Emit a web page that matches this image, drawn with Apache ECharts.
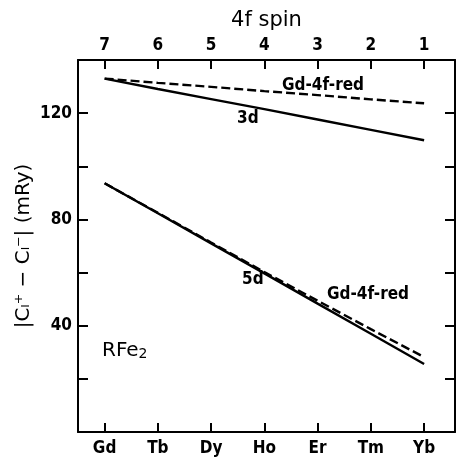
<!DOCTYPE html>
<html>
<head>
<meta charset="utf-8">
<script src="https://cdn.jsdelivr.net/npm/echarts@6/dist/echarts.min.js"></script>
<style>
  body { margin: 0; padding: 0; background: #fff; }
  #chart { width: 463px; height: 459px; }
</style>
</head>
<body>
<div id="chart"></div>
<script>
// rare earths along the bottom, 4f spin along the top
const elements = ['Gd', 'Tb', 'Dy', 'Ho', 'Er', 'Tm', 'Yb'];
const spins = ['7', '6', '5', '4', '3', '2', '1'];
const yLabels = [40, 80, 120];

// |C+ - C-| in mRy
const d3 = [133, 129.1, 125.3, 121.5, 117.6, 113.7, 109.8];
const d3Red = [133, 131.4, 129.9, 128.3, 126.8, 125.2, 123.7];
const d5 = [93.6, 82.3, 71.0, 59.7, 48.3, 37.0, 25.6];
const d5Red = [93.6, 82.5, 71.3, 60.2, 49.4, 38.7, 28.2];

const idx = elements.map((_, i) => i);
const pts = arr => arr.map((v, i) => [i, v]);
const font = 'DejaVu Sans Condensed';

const ec = echarts.init(document.getElementById('chart'));

const xBase = {
    type: 'value',
    min: -0.5,
    max: 6.58,
    splitLine: { show: false },
    axisLine: { onZero: false, lineStyle: { color: '#000', width: 2 } },
    axisTick: { inside: true, length: 9, customValues: idx, lineStyle: { color: '#000', width: 2 } },
};
const yBase = {
    type: 'value',
    min: 0,
    max: 140,
    interval: 20,
    splitLine: { show: false },
    axisLine: { show: true, onZero: false, lineStyle: { color: '#000', width: 2 } },
    axisTick: { inside: true, length: 10, lineStyle: { color: '#000', width: 2 } },
};

const line = (data, dashed) => ({
    type: 'line',
    data: pts(data),
    symbol: 'none',
    silent: true,
    lineStyle: { color: '#000', width: 2.4, type: dashed ? [9, 4] : 'solid' },
});

ec.setOption({
    animation: false,
    grid: { left: 78, right: 8, top: 60, bottom: 27, containLabel: false, outerBoundsMode: 'none' },
    xAxis: [
        Object.assign({}, xBase, {
            position: 'bottom',
            axisLabel: {
                customValues: idx, margin: 8, color: '#000',
                fontFamily: font, fontWeight: 'bold', fontSize: 17,
                formatter: v => elements[Math.round(v)]
            }
        }),
        Object.assign({}, xBase, {
            position: 'top',
            name: '4f spin',
            nameLocation: 'middle',
            nameGap: 29,
            nameMoveOverlap: false,
            nameTextStyle: { color: '#000', fontFamily: 'DejaVu Sans', fontSize: 21 },
            axisLabel: {
                customValues: idx, margin: 6, color: '#000',
                fontFamily: font, fontWeight: 'bold', fontSize: 17,
                formatter: v => spins[Math.round(v)]
            }
        })
    ],
    yAxis: [
        Object.assign({}, yBase, {
            position: 'left',
            name: '|Cₗ⁺ − Cₗ⁻| (mRy)',
            nameLocation: 'middle',
            nameGap: 44,
            nameRotate: 90,
            nameMoveOverlap: false,
            nameTextStyle: { color: '#000', fontFamily: 'DejaVu Sans', fontSize: 20 },
            axisLabel: {
                margin: 6, color: '#000',
                fontFamily: font, fontWeight: 'bold', fontSize: 17,
                formatter: v => yLabels.includes(v) ? String(v) : ''
            }
        }),
        Object.assign({}, yBase, {
            position: 'right',
            axisLabel: { show: false }
        })
    ],
    series: [
        line(d3, false),
        line(d3Red, true),
        line(d5, false),
        line(d5Red, true)
    ],
    graphic: [
        { type: 'text', left: 282, top: 77, style: { text: 'Gd-4f-red', font: 'bold 17px "DejaVu Sans Condensed"', fill: '#000' } },
        { type: 'text', left: 237, top: 110, style: { text: '3d', font: 'bold 17px "DejaVu Sans Condensed"', fill: '#000' } },
        { type: 'text', left: 242, top: 271, style: { text: '5d', font: 'bold 17px "DejaVu Sans Condensed"', fill: '#000' } },
        { type: 'text', left: 327, top: 286, style: { text: 'Gd-4f-red', font: 'bold 17px "DejaVu Sans Condensed"', fill: '#000' } },
        {
            type: 'text', left: 102, top: 341,
            style: {
                text: 'RFe{s|2}', fill: '#000', font: '20px "DejaVu Sans"',
                rich: { s: { fontSize: 14, fontFamily: 'DejaVu Sans', verticalAlign: 'bottom', padding: [6, 0, 0, 0] } }
            }
        }
    ]
});
</script>
</body>
</html>
